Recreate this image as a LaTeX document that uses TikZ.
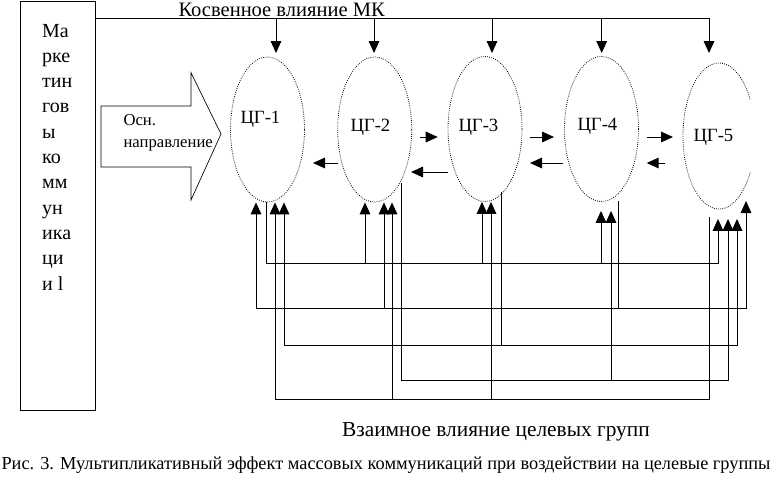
\documentclass[tikz,border=0pt]{standalone}
\usepackage{fontspec}
\setmainfont{Liberation Serif}
\usetikzlibrary{arrows.meta,positioning,calc,shapes.geometric}

\begin{document}
\begin{tikzpicture}[
  x=0.75pt, y=-0.75pt,
  line width=0.75pt,
  >={Triangle[width=8pt,length=9pt]},
  cg/.style={ellipse,draw,line width=0.6pt,densely dotted,minimum width=55.5pt,minimum height=108.75pt,inner sep=0pt},
  lbl/.style={font=\fontsize{14}{16}\selectfont,anchor=base west,inner sep=0pt},
  syl/.style={font=\fontsize{15}{17}\selectfont,anchor=base west,inner sep=0pt},
  txt/.style={anchor=base west,inner sep=0pt},
]
\fill[white] (0,0) rectangle (774,476);
\useasboundingbox (0,0) rectangle (774,476);

% marketing communications box
\node[draw,minimum width=56.25pt,minimum height=307pt,anchor=north west,inner sep=0pt] (mk) at (19.5,0.5) {};
\foreach \s [count=\i from 0] in {Ма,рке,тин,гов,ы,ко,мм,ун,ика,ци,и l}
  \node[syl] (s\i) at (41.7,{37+25.3*\i}) {\s};

% main direction arrow
\draw[line width=0.5pt] (101,106) -- (191,106) -- (191,72.7) -- (221,134) -- (191,200) -- (191,167) -- (101,167) -- cycle;
\node[txt,font=\fontsize{12.5}{14}\selectfont] (osn1) at (123,125) {Осн.};
\node[txt,font=\fontsize{12.5}{14}\selectfont] (osn2) at (123,147) {направление};

% target groups
\node[cg] (cg1) at (267.5,129.5) {};
\node[cg] (cg2) at (374.7,129.5) {};
\node[cg] (cg3) at (485,129) {};
\node[cg] (cg4) at (601.5,129) {};
\node[cg,draw=none] (cg5) at (719,136) {};
\draw[line width=0.6pt,densely dotted] (cg5.center) ++(30:36 and 73) arc[start angle=30,end angle=330,x radius=36,y radius=73];
\node[lbl] (l1) at (240,123.3) {ЦГ-1};
\node[lbl] (l2) at (350,131) {ЦГ-2};
\node[lbl] (l3) at (458,131) {ЦГ-3};
\node[lbl] (l4) at (577,130) {ЦГ-4};
\node[lbl] (l5) at (693,141.7) {ЦГ-5};
\coordinate (in4) at ($(cg4.south)+(0,9)$);
\coordinate (in5) at ($(cg5.south)+(0,10)$);

% indirect influence
\node[txt,font=\fontsize{15.4}{18}\selectfont] (kos) at (178,16) {Косвенное влияние МК};
\draw (mk.north east |- 0,18) -- (709,18);
\foreach \x in {276,374,492,601.7,709}
  \draw[->] (\x,18) -- ++(0,35);

% neighbour arrows
\foreach \a/\b/\y in {337.7/313/163,420/437.7/137,448/411/172,530/554/137,563/530/163,646.7/673/137,665/646.7/163}
  \draw[->] (\a,\y) -- (\b,\y);

% mutual influence lines
\draw[->] (266,0 |- cg1.south) |- (718,263) -- (718,0 |- in5);
\foreach \x/\t in {365/cg2.south,482/cg3.south,601/in4}
  \draw[->] (\x,263) -- (\x,0 |- \t);
\draw (618,201) -- (618,308);
\draw[<->] (256,0 |- cg1.south) |- (746,308) -- (746,201);
\draw[->] (384,308) -- (384,0 |- cg2.south);
\draw (501.7,192) -- (501.7,345);
\draw[<->] (284,0 |- cg1.south) |- (737,345) -- (737,0 |- in5);
\draw[->] (401,183) |- (728,380) -- (728,0 |- in5);
\draw[->] (611,380) -- (611,0 |- in4);
\draw[->] (709,217) |- (275,399) -- (275,0 |- cg1.south);
\foreach \x/\t in {392/cg2.south,491/cg3.south}
  \draw[->] (\x,399) -- (\x,0 |- \t);

\node[txt,font=\fontsize{16}{18}\selectfont] (vz) at (341.7,436.7) {Взаимное влияние целевых групп};
\node[txt,font=\fontsize{13.75}{16}\selectfont] (cap) at (1,469) {Рис. 3. Мультипликативный эффект массовых коммуникаций при воздействии на целевые группы};
\end{tikzpicture}
\end{document}
